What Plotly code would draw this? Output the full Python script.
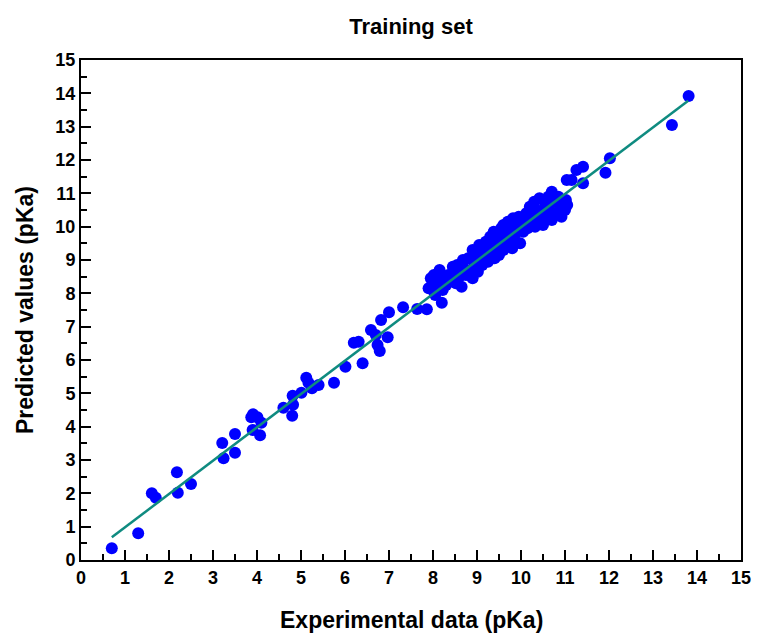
import plotly.graph_objects as go

# Experimental (x) vs predicted (y) pKa values, training set
exp_low = [0.70, 1.30, 1.61, 1.70, 2.18, 2.20, 2.50, 3.21, 3.24, 3.50, 3.50,
           3.87, 3.91, 4.01, 3.90, 4.10, 4.07, 4.60, 4.81, 4.82, 4.80, 5.01,
           5.12, 5.17, 5.25, 5.40, 5.75, 6.01, 6.40, 6.20, 6.31, 6.59, 6.70,
           6.74, 6.79, 6.97, 6.82, 7.00, 7.32, 7.64, 7.86, 7.90]
pred_low = [0.35, 0.80, 2.00, 1.87, 2.63, 2.02, 2.28, 3.51, 3.05, 3.78, 3.22,
            4.28, 4.37, 4.28, 3.90, 4.12, 3.74, 4.57, 4.93, 4.66, 4.33, 5.02,
            5.47, 5.32, 5.15, 5.25, 5.32, 5.80, 5.90, 6.52, 6.55, 6.90, 6.75,
            6.45, 6.27, 6.68, 7.20, 7.43, 7.58, 7.53, 7.52, 8.15]

exp_mid = [7.95, 7.98, 8.02, 8.05, 8.00, 8.10, 8.12, 8.15, 8.20, 8.22, 8.25,
           8.30, 8.35, 8.40, 8.45, 8.50, 8.52, 8.55, 8.60, 8.65, 8.68, 8.70,
           8.75, 8.80, 8.85, 8.90, 8.90, 8.95, 9.00, 9.02, 9.05, 9.10, 9.12,
           9.15, 9.20, 9.22, 9.25, 9.30, 9.30, 9.35, 9.38, 9.40, 9.42, 9.45,
           9.50, 9.50, 9.55, 9.55, 9.60, 9.60, 9.62, 9.65, 9.68, 9.70, 9.72,
           9.75, 9.78, 9.80, 9.82, 9.85, 9.88, 9.90, 9.92, 9.95, 9.98, 10.00,
           10.05, 10.10, 10.12, 10.15, 10.20, 10.22, 10.25, 10.30, 10.32, 10.35,
           10.40, 10.42, 10.45, 10.50, 10.55, 10.60, 10.62, 10.65, 10.70, 10.70,
           10.75, 10.80, 10.85, 10.90, 10.92, 10.95, 11.00, 11.02, 11.05]
pred_mid = [8.45, 8.25, 8.55, 7.95, 8.10, 8.35, 8.60, 8.70, 7.72, 8.10, 8.45,
            8.25, 8.55, 8.40, 8.80, 8.60, 8.30, 8.85, 8.50, 8.20, 9.00, 8.75,
            8.55, 9.05, 8.70, 9.30, 8.45, 8.90, 9.15, 8.65, 9.45, 9.00, 8.85,
            9.30, 9.55, 9.10, 8.95, 9.40, 9.70, 9.20, 9.85, 9.05, 9.55, 9.35,
            9.75, 9.15, 9.95, 9.50, 9.30, 10.05, 9.70, 9.90, 9.45, 10.15, 9.60,
            9.85, 10.00, 9.35, 10.25, 9.75, 9.55, 10.05, 9.90, 10.30, 9.50, 10.10,
            9.85, 10.20, 10.40, 9.95, 10.60, 10.10, 10.30, 10.75, 10.00, 10.50,
            10.20, 10.85, 10.40, 10.05, 10.65, 10.30, 10.90, 10.50, 11.05, 10.20,
            10.75, 10.40, 10.90, 10.55, 10.30, 10.75, 10.50, 10.80, 10.65]

exp_high = [11.04, 11.15, 11.26, 11.41, 11.41, 11.92, 12.02, 13.43, 13.81]
pred_high = [11.40, 11.40, 11.70, 11.80, 11.30, 11.62, 12.05, 13.05, 13.92]

experimental = exp_low + exp_mid + exp_high
predicted = pred_low + pred_mid + pred_high

# Fitted regression line end points
fit_x = [0.70, 13.80]
fit_y = [0.68, 13.78]

tick_vals = list(range(0, 16))
tick_text = [str(v) for v in tick_vals]

FONT = "Liberation Sans, Arial, sans-serif"

fig = go.Figure()
fig.add_trace(go.Scatter(
    x=experimental, y=predicted, mode="markers",
    marker=dict(color="#0000FF", size=12, line=dict(width=0)),
    showlegend=False,
))
fig.add_trace(go.Scatter(
    x=fit_x, y=fit_y, mode="lines",
    line=dict(color="#0f8b80", width=2.5),
    showlegend=False,
))

axis_common = dict(
    range=[0, 15],
    tickmode="array",
    tickvals=tick_vals,
    ticktext=tick_text,
    ticks="inside",
    ticklen=10,
    tickwidth=1.5,
    tickcolor="black",
    showline=True,
    linecolor="black",
    linewidth=2,
    mirror=True,
    showgrid=False,
    zeroline=False,
    tickfont=dict(family=FONT, size=18, color="black", weight="bold"),
    minor=dict(ticks="inside", ticklen=6, tickwidth=1.5, tickcolor="black", dtick=0.5, showgrid=False),
)

fig.update_xaxes(**axis_common)
fig.update_yaxes(**axis_common)

fig.update_layout(
    width=763, height=633,
    margin=dict(l=81, r=12, t=60, b=73),
    plot_bgcolor="white",
    paper_bgcolor="white",
    title=dict(
        text="<b>Training set</b>",
        x=0.5, xref="paper", xanchor="center",
        y=(633 - 26) / 633, yref="container", yanchor="middle",
        font=dict(family=FONT, size=22, color="black"),
    ),
    annotations=[
        dict(text="<b>Experimental data (pKa)</b>", x=0.5, y=0, xref="paper", yref="paper",
             xanchor="center", yanchor="middle", yshift=-60, showarrow=False,
             font=dict(family=FONT, size=23, color="black")),
        dict(text="<b>Predicted values (pKa)</b>", x=0, y=0.5, xref="paper", yref="paper",
             xanchor="center", yanchor="middle", xshift=-56, textangle=-90, showarrow=False,
             font=dict(family=FONT, size=23, color="black")),
    ],
)

fig.write_html("out.html",
               config={"displayModeBar": False},
               post_script="document.body.style.margin='0';document.body.style.overflow='hidden';")
